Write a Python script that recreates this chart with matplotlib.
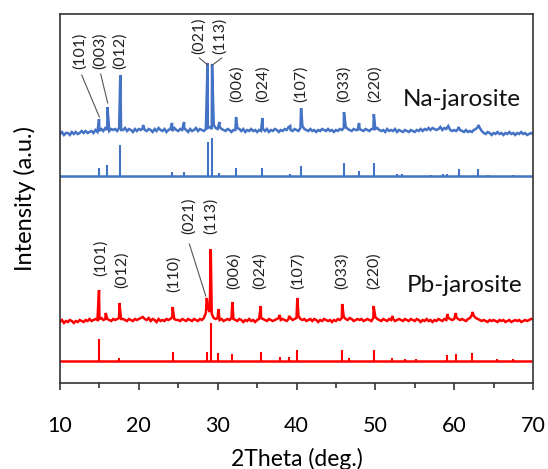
import numpy as np
import matplotlib
matplotlib.use('Agg')
import matplotlib.pyplot as plt
from matplotlib.ticker import MultipleLocator

plt.rcParams['font.family'] = ['Lato', 'DejaVu Sans']

# measured pattern, background read every 0.25 deg from 10 to 70 (a.u.)
na_base = [1, 3, 0, 2,  2, 0, 3, 1,  3, 1, 2, 4,  2, 4, 2, 3,  4, 2, 5, 3,
           4, 6, 4, 7,  5, 4, 6, 5,  6, 4, 7, 5,  5, 7, 4, 6,  5, 3, 6, 4,
           6, 5, 7, 5,  4, 6, 5, 3,  6, 4, 7, 5,  4, 6, 3, 5,  6, 4, 7, 5,
           4, 6, 5, 7,  5, 3, 6, 4,  5, 7, 4, 6,  5, 4, 6, 7,  8, 6, 10, 7,
           6, 8, 6, 5,  4, 6, 5, 3,  5, 5, 7, 6,  4, 6, 3, 5,  4, 6, 4, 5,
           3, 5, 4, 6,  4, 6, 3, 5,  4, 6, 5, 3,  5, 4, 6, 5,  8, 5, 4, 6,
           5, 4, 7, 9,  6, 5, 4, 6,  4, 5, 3, 5,  4, 6, 5, 4,  6, 4, 5, 3,
           5, 4, 6, 5,  7, 8, 6, 5,  4, 6, 5, 5,  6, 5, 4, 6,  5, 4, 6, 6,
           6, 7, 5, 4,  5, 3, 6, 4,  5, 4, 6, 3,  5, 4, 3, 5,  4, 3, 5, 4,
           3, 5, 4, 6,  4, 6, 5, 7,  5, 7, 6, 5,  6, 8, 5, 7,  6, 9, 5, 4,
           5, 4, 6, 5,  4, 3, 5, 3,  4, 3, 5, 6,  8, 7, 4, 2,  1, 3, 2, 0,
           2, 1, 3, 1,  2, 0, 2, 1,  3, 1, 2, 0,  2, 1, 3, 1,  2, 0, 1, 2,
           1]
na_peak_pos = [14.95, 16.02, 17.65, 20.53, 24.21, 25.74, 28.72, 29.29, 30.22,
               32.33, 35.67, 39.2, 40.58, 46.02, 47.94, 49.81, 60.55, 63.08]
na_peak_int = [16, 28, 60, 10, 12, 13, 72, 71, 13,
               18, 17, 9, 27, 23, 12, 21, 8, 10]

# reference card (sticks)
na_ref_pos = [14.95, 16.02, 17.65, 24.21, 25.74, 28.72, 29.29, 30.22, 32.33, 35.67,
              39.2, 40.58, 46.02, 47.94, 49.81, 52.7, 53.4, 57.0, 58.6, 59.1,
              60.55, 63.08, 64.3, 67.5]
na_ref_int = [8, 11, 31, 4, 4, 34, 38, 3, 8, 8,
              2, 10, 13, 5, 13, 2, 2, 1.5, 2, 2,
              7, 7, 1.5, 1.5]

pb_base = [0, 2, -1, 1,  0, 2, 1, -1,  1, 0, 2, 1,  0, 2, 1, 3,  1, 2, 3, 2,
           3, 4, 2, 3,  3, 2, 1, 3,  2, 3, 4, 3,  3, 2, 1, 3,  2, 1, 3, 2,
           3, 4, 5, 3,  2, 4, 1, 3,  2, 0, 3, 1,  2, 1, 3, 2,  3, 5, 3, 2,
           2, 1, 3, 2,  1, 3, 2, 1,  3, 2, 1, 3,  2, 4, 9, 14,  10, 8, 4, 3,
           4, 2, 3, 1,  2, 3, 2, 4,  3, 2, 1, 3,  2, 0, 2, 1,  3, 1, 2, 0,
           2, 3, 4, 3,  2, 1, 3, 2,  1, 2, 3, 4,  2, 3, 2, 1,  3, 4, 2, 3,
           4, 6, 3, 2,  3, 1, 2, 3,  1, 3, 2, 0,  2, 1, 3, 2,  1, 2, 0, 2,
           1, 3, 2, 4,  5, 3, 2, 4,  3, 1, 2, 3,  2, 3, 1, 2,  3, 2, 1, 4,
           5, 3, 2, 1,  3, 2, 1, 3,  2, 3, 1, 2,  3, 2, 1, 3,  2, 1, 3, 2,
           1, 3, 2, 0,  2, 1, 3, 1,  2, 0, 2, 1,  3, 2, 1, 3,  2, 4, 3, 2,
           3, 5, 3, 2,  3, 2, 1, 3,  4, 7, 6, 4,  3, 2, 1, 2,  1, 0, 2, 1,
           2, 1, 0, 2,  1, 2, 0, 1,  2, 0, 1, 2,  1, 2, 0, 1,  2, 1, 2, 3,
           3]
pb_peak_pos = [14.95, 15.8, 17.53, 24.28, 28.62, 29.12, 30.09, 31.87, 35.47,
               37.86, 39.06, 40.11, 45.79, 49.78, 52.17, 59.15, 60.22, 62.32]
pb_peak_int = [32, 9, 19, 15, 24, 73, 13, 20, 16,
               7, 6, 24, 18, 16, 6, 8, 9, 10]

pb_ref_pos = [14.95, 17.53, 24.28, 28.62, 29.12, 30.09, 31.87, 35.47, 37.86, 39.06,
              40.11, 45.79, 46.6, 49.78, 52.17, 53.8, 55.2, 59.15, 60.22, 62.32,
              65.4, 67.5]
pb_ref_int = [22, 3, 9, 9, 38, 8, 7, 9, 4, 4,
              11, 11, 3, 11, 3, 2, 2, 6, 7, 8,
              2, 2]

na_hkl = ['(101)', '(003)', '(012)', '(021)', '(113)', '(006)', '(024)', '(107)', '(033)', '(220)']
pb_hkl = ['(101)', '(012)', '(110)', '(021)', '(113)', '(006)', '(024)', '(107)', '(033)', '(220)']


def pattern(base, pos, inten):
    x = np.concatenate([np.linspace(10, 70, len(base)), pos])
    y = np.concatenate([np.array(base, float), inten])
    o = np.argsort(x, kind='stable')
    return x[o], y[o]


na_col = '#4472C4'
pb_col = '#FF0000'

fig = plt.figure(figsize=(5.48, 4.69), dpi=100)
ax = fig.add_axes([60/548, 1-383/469, 473/548, 369/469])

# vertical offsets of the stacked traces
off_na, off_na_ref, off_pb, off_pb_ref = 248, 207, 61, 22

x, y = pattern(na_base, na_peak_pos, na_peak_int)
ax.plot(x, y + off_na, color=na_col, lw=1.8, solid_joinstyle='miter')
ax.vlines(na_ref_pos, off_na_ref, off_na_ref + np.array(na_ref_int), color=na_col, lw=1.5)
ax.axhline(off_na_ref, color=na_col, lw=1.8)

x, y = pattern(pb_base, pb_peak_pos, pb_peak_int)
ax.plot(x, y + off_pb, color=pb_col, lw=1.8, solid_joinstyle='miter')
ax.vlines(pb_ref_pos, off_pb_ref, off_pb_ref + np.array(pb_ref_int), color=pb_col, lw=1.5)
ax.axhline(off_pb_ref, color=pb_col, lw=1.8)

# hkl labels
lab_kw = dict(rotation=90, ha='center', va='center', fontsize=11.5, color='#222')
na_lab_xy = [(12.54, 332), (15.08, 332), (17.61, 332), (27.55, 347), (30.3, 347),
             (32.42, 299), (35.72, 299), (40.58, 299), (45.95, 299), (49.97, 299)]
for t, (tx, ty) in zip(na_hkl, na_lab_xy):
    ax.text(tx, ty, t, **lab_kw)
pb_lab_xy = [(15.17, 125), (17.83, 113), (24.38, 109), (26.28, 167), (29.16, 167),
             (31.99, 112), (35.29, 112), (40.11, 112), (45.75, 112), (49.76, 112)]
for t, (tx, ty) in zip(pb_hkl, pb_lab_xy):
    ax.text(tx, ty, t, **lab_kw)

# leader lines
leaders = [((12.75, 308), (14.99, 266)), ((15.16, 309), (16.05, 280)),
           ((27.68, 325), (28.74, 318)), ((30.52, 325), (29.33, 318)),
           ((26.41, 139), (28.49, 87))]
for (x0, y0), (x1, y1) in leaders:
    ax.plot([x0, x1], [y0, y1], color='#555', lw=0.8)

ax.text(53.5, 284, 'Na-jarosite', fontsize=17.5, va='center', ha='left', color='#111')
ax.text(54.0, 98, 'Pb-jarosite', fontsize=17.5, va='center', ha='left', color='#111')

ax.set_xlim(10, 70)
ax.set_ylim(0, 369)
ax.xaxis.set_major_locator(MultipleLocator(10))
ax.xaxis.set_minor_locator(MultipleLocator(5))
ax.tick_params(axis='x', which='major', direction='out', length=5, width=1.2,
               color='#333', pad=19, labelsize=15.5)
ax.tick_params(axis='x', which='minor', direction='out', length=3.5, width=1.2, color='#333')
ax.set_yticks([])
for s in ax.spines.values():
    s.set_color('#333')
    s.set_linewidth(1.2)

ax.set_xlabel('2Theta (deg.)', fontsize=16.5)
ax.xaxis.set_label_coords(0.5, -0.176)
ax.set_ylabel('Intensity (a.u.)', fontsize=17)
ax.yaxis.set_label_coords(-0.05, 0.5)

fig.savefig('out.png', dpi=100)
